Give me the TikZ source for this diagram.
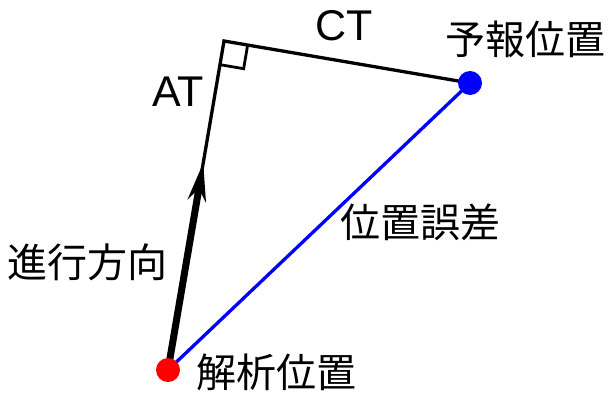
\documentclass[tikz,border=0pt]{standalone}
\usepackage{fontspec}
\setmainfont{Liberation Sans}
\newfontfamily\cjk{Noto Sans CJK JP}
\usetikzlibrary{calc,arrows.meta}
\tikzset{
  jp/.style={font=\cjk\fontsize{40pt}{46pt}\selectfont, inner sep=0pt},
  lat/.style={font=\fontsize{43pt}{50pt}\selectfont, inner sep=0pt},
  dot/.style={circle, inner sep=0pt, minimum size=24pt},
  thinline/.style={line width=3.3pt, line join=miter},
}
\begin{document}
\begin{tikzpicture}[x=1pt,y=-1pt]
\useasboundingbox (0,0) rectangle (608,394);
\node[dot] (A) at (168,370) {};
\node[dot] (B) at (470,83) {};
\coordinate (C) at (224,41);
\coordinate (T) at ($(A.center)!0.63!(C)$);
\coordinate (P1) at ($(C)!24pt!(A.center)$);
\coordinate (P2) at ($(C)!24pt!(B.center)$);
\coordinate (P3) at ($(P1)+(P2)-(C)$);
% lines
\draw[thinline, blue] (A.center) -- (B.center);
\draw[thinline] (A.center) -- (C) -- (B.center);
\draw[line width=2.8pt] (P1) -- (P3) -- (P2);
\draw[line width=7pt, -{Stealth[length=38pt,width=18pt,inset=12pt]}] (A.center) -- (T);
% dots
\fill[red] (A) circle (12pt);
\fill[blue] (B) circle (12pt);
% labels
\node[lat] (lCT) at (344,26) {CT};
\node[lat] (lAT) at (178,92) {AT};
\node[jp] (l1) at (525,39) {予報位置};
\node[jp] (l2) at (420,222) {位置誤差};
\node[jp] (l3) at (88,262) {進行方向};
\node[jp] (l4) at (276,372) {解析位置};
\end{tikzpicture}
\end{document}
